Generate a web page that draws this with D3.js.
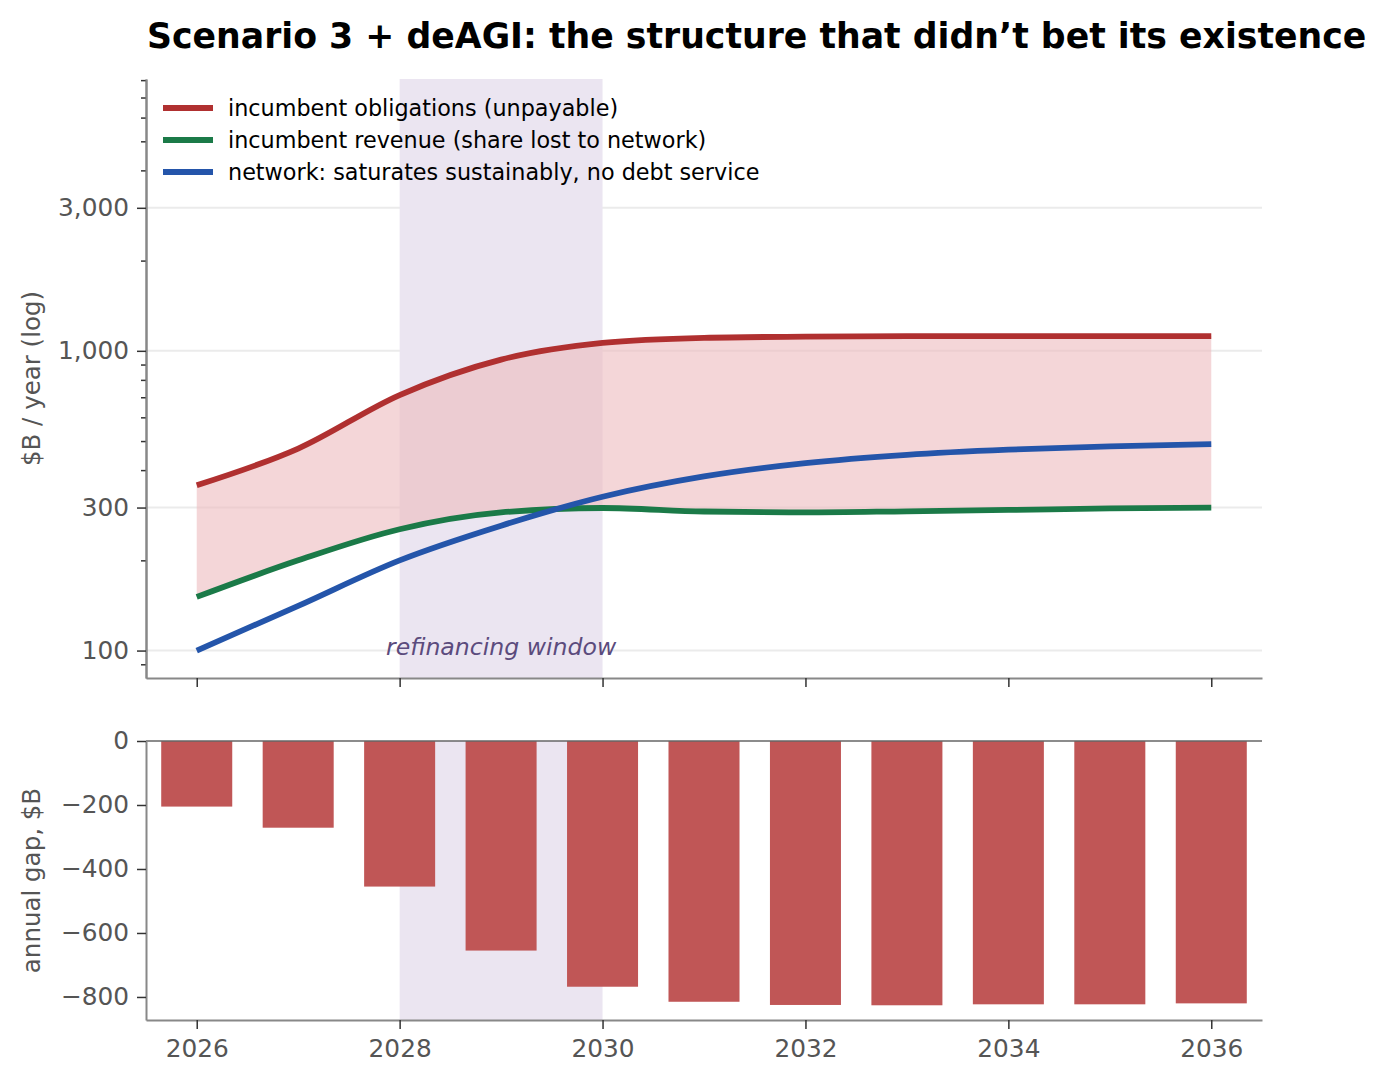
<!DOCTYPE html>
<html>
<head>
<meta charset="utf-8">
<script src="https://cdn.jsdelivr.net/npm/d3@7"></script>
<style>
  body { margin: 0; background: white; }
  text { font-family: "DejaVu Sans", sans-serif; }
</style>
</head>
<body>
<script>
// values ($B / year)
const years = [2026, 2027, 2028, 2029, 2030, 2031, 2032, 2033, 2034, 2035, 2036];
const obligations = [356, 472, 712, 935, 1063, 1105, 1115, 1119, 1120, 1120, 1120];
const revenue = [151, 200, 254, 289, 299, 291, 289, 291.5, 294.5, 298, 300];
const network = [100, 141, 200, 261, 326, 381, 422, 450, 468, 480, 488];
const gap = [-205, -271, -455, -655, -768, -815, -825, -826, -823, -823, -820];

const seriesNames = [
    "incumbent obligations (unpayable)",
    "incumbent revenue (share lost to network)",
    "network: saturates sustainably, no debt service"
];
const seriesColors = ["#b03030", "#1b7a48", "#2455aa"];
const topTicks = [100, 300, 1000, 3000];
const bottomTicks = [0, -200, -400, -600, -800];
const xTicks = [2026, 2028, 2030, 2032, 2034, 2036];
const windowYears = [2028, 2030];

const W = 1386, H = 1083;
const left = 146, right = 1262;
const top1 = 79, bot1 = 678;
const top2 = 741, bot2 = 1020;

const svg = d3.select("body").append("svg")
    .attr("width", W)
    .attr("height", H);

// Scales
const x = d3.scaleLinear().domain([2025.5, 2036.5]).range([left, right]);
const yTop = d3.scaleLog().domain([81, 8070]).range([bot1, top1]);
const yBot = d3.scaleLinear().domain([-872, 0]).range([bot2, top2]);

// Title
svg.append("text")
    .text("Scenario 3 + deAGI: the structure that didn\u2019t bet its existence")
    .attr("x", 147)
    .attr("y", 48)
    .style("font-weight", "bold")
    .style("font-size", "34.7px")
    .style("fill", "black");

// ---------- top panel ----------
const g1 = svg.append("g");

// grid
g1.selectAll(".grid")
    .data(topTicks)
    .join("line")
    .attr("x1", left).attr("x2", right)
    .attr("y1", d => yTop(d)).attr("y2", d => yTop(d))
    .attr("stroke", "#ebebeb")
    .attr("stroke-width", 2);

// refinancing window span
g1.append("rect")
    .attr("x", x(windowYears[0]))
    .attr("width", x(windowYears[1]) - x(windowYears[0]))
    .attr("y", top1)
    .attr("height", bot1 - top1)
    .attr("fill", "#ebe5f1");

const pts = years.map((yr, i) => ({year: yr, ob: obligations[i], rev: revenue[i], net: network[i]}));

// fill between obligations and revenue
const area = d3.area()
    .x(d => x(d.year))
    .y0(d => yTop(d.rev))
    .y1(d => yTop(d.ob))
    .curve(d3.curveMonotoneX);

g1.append("path")
    .datum(pts)
    .attr("d", area)
    .attr("fill", "#edbbbe")
    .attr("fill-opacity", 0.6);

// lines
const keys = ["ob", "rev", "net"];
keys.forEach((k, i) => {
    const line = d3.line()
        .x(d => x(d.year))
        .y(d => yTop(d[k]))
        .curve(d3.curveMonotoneX);
    g1.append("path")
        .datum(pts)
        .attr("d", line)
        .attr("fill", "none")
        .attr("stroke", seriesColors[i])
        .attr("stroke-width", 5.8);
});

// annotation
g1.append("text")
    .text("refinancing window")
    .attr("x", x(2029))
    .attr("y", 655)
    .style("text-anchor", "middle")
    .style("font-style", "italic")
    .style("font-size", "23.6px")
    .style("fill", "#5b4b7d");

// axes
const minorTicks = [];
[10, 100, 1000].forEach(dec => {
    for (let m = 2; m <= 9; m++) {
        const v = m * dec;
        if (v >= 81 && v <= 8070 && !topTicks.includes(v)) minorTicks.push(v);
    }
});

const yAxisMinor = d3.axisLeft(yTop).tickValues(minorTicks).tickSize(5).tickSizeOuter(0).tickFormat("");
const yAxis1 = d3.axisLeft(yTop).tickValues(topTicks).tickSize(9).tickSizeOuter(0)
    .tickPadding(8).tickFormat(d3.format(","));
const xAxis1 = d3.axisBottom(x).tickValues(xTicks).tickSize(9).tickSizeOuter(0).tickFormat("");

const ya1m = g1.append("g").attr("transform", `translate(${left},0)`).call(yAxisMinor);
const ya1 = g1.append("g").attr("transform", `translate(${left},0)`).call(yAxis1);
const xa1 = g1.append("g").attr("transform", `translate(0,${bot1})`).call(xAxis1);

// legend
seriesNames.forEach((name, i) => {
    const ly = 108 + i * 32;
    g1.append("line")
        .attr("x1", 163).attr("x2", 213)
        .attr("y1", ly).attr("y2", ly)
        .attr("stroke", seriesColors[i])
        .attr("stroke-width", 5.8);
    g1.append("text")
        .text(name)
        .attr("x", 228)
        .attr("y", ly)
        .attr("dy", "0.35em")
        .style("font-size", "22.3px")
        .style("fill", "black");
});

// y label
svg.append("text")
    .text("$B / year (log)")
    .attr("transform", `translate(40, ${(top1 + bot1) / 2}) rotate(-90)`)
    .style("text-anchor", "middle")
    .style("font-size", "24.5px")
    .style("fill", "#555");

// ---------- bottom panel ----------
const g2 = svg.append("g");

g2.append("rect")
    .attr("x", x(windowYears[0]))
    .attr("width", x(windowYears[1]) - x(windowYears[0]))
    .attr("y", top2)
    .attr("height", bot2 - top2)
    .attr("fill", "#ebe5f1");

g2.selectAll(".bar")
    .data(years.map((yr, i) => ({year: yr, v: gap[i]})))
    .join("rect")
    .attr("class", "bar")
    .attr("x", d => x(d.year - 0.35))
    .attr("width", x(0.7) - x(0))
    .attr("y", yBot(0))
    .attr("height", d => yBot(d.v) - yBot(0))
    .attr("fill", "#c05656");

// zero line
g2.append("line")
    .attr("x1", left).attr("x2", right)
    .attr("y1", yBot(0)).attr("y2", yBot(0))
    .attr("stroke", "#666")
    .attr("stroke-width", 1.5);

const yAxis2 = d3.axisLeft(yBot).tickValues(bottomTicks).tickSize(9).tickSizeOuter(0).tickPadding(8);
const xAxis2 = d3.axisBottom(x).tickValues(xTicks).tickSize(9).tickSizeOuter(0).tickPadding(10)
    .tickFormat(d3.format("d"));

const ya2 = g2.append("g").attr("transform", `translate(${left},0)`).call(yAxis2);
const xa2 = g2.append("g").attr("transform", `translate(0,${bot2})`).call(xAxis2);

svg.append("text")
    .text("annual gap, $B")
    .attr("transform", `translate(40, ${(top2 + bot2) / 2}) rotate(-90)`)
    .style("text-anchor", "middle")
    .style("font-size", "24.5px")
    .style("fill", "#555");

// axis styling
[ya1m, ya1, xa1, ya2, xa2].forEach(a => {
    a.select(".domain").attr("stroke", "#888").attr("stroke-width", 2);
    a.selectAll(".tick line").attr("stroke", "#333").attr("stroke-width", 1.5);
    a.selectAll(".tick text")
        .style("font-family", "DejaVu Sans, sans-serif")
        .style("font-size", "24.8px")
        .style("fill", "#555");
});
</script>
</body>
</html>
